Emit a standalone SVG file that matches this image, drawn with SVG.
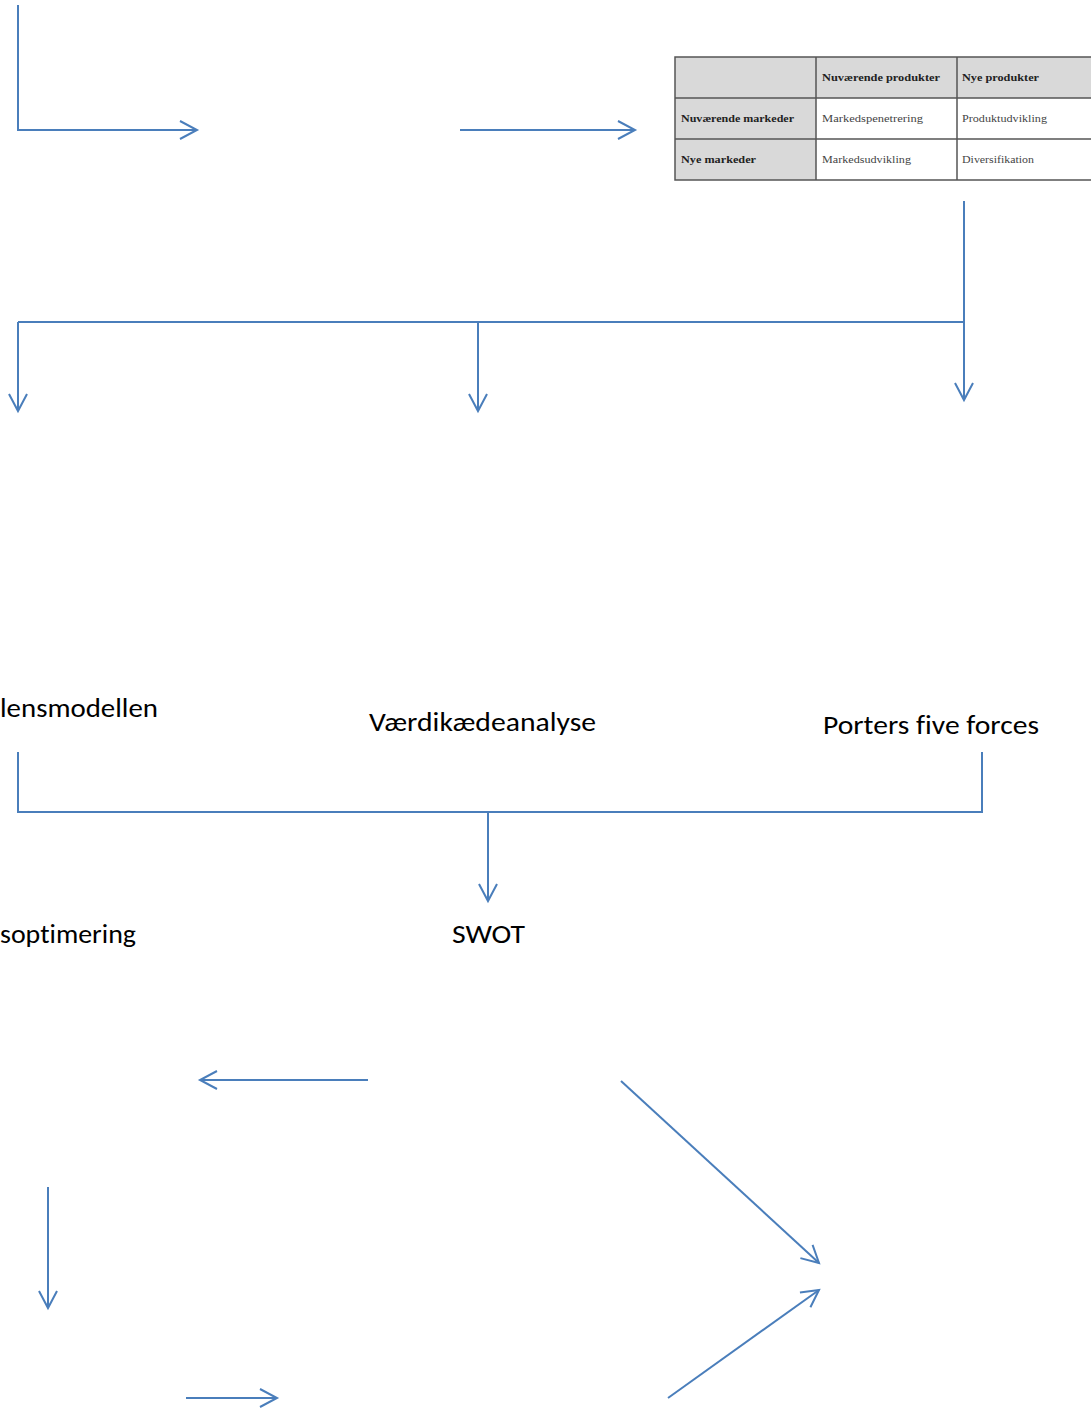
<svg xmlns="http://www.w3.org/2000/svg" width="1091" height="1409" viewBox="0 0 1091 1409">
<style>
.c{fill:none;stroke:#4a7ebb;stroke-width:2}
.t{font-family:Carlito,Lato,"Open Sans",sans-serif;font-size:26px;fill:#000;font-variant-ligatures:none}
.th{font-family:"Liberation Serif","DejaVu Serif",serif;font-size:10.5px;font-weight:bold;fill:#222}
.td{font-family:"Liberation Serif","DejaVu Serif",serif;font-size:10.5px;fill:#444}
.g{fill:#d9d9d9}
.b{stroke:#555;stroke-width:1.5;fill:none}
</style>
<defs>
<marker id="a" markerUnits="userSpaceOnUse" markerWidth="40" markerHeight="40" viewBox="-20 -20 40 40" refX="0" refY="0" orient="auto">
<path d="M-17,-9 L0,0 L-17,9" fill="none" stroke="#4a7ebb" stroke-width="2"/>
</marker>
</defs>
<g id="connectors">
<path class="c" d="M18,5 V130 H197" marker-end="url(#a)"/>
<path class="c" d="M460,130 H635" marker-end="url(#a)"/>
<path class="c" d="M964,201 V400" marker-end="url(#a)"/>
<path class="c" d="M18,322 H964"/>
<path class="c" d="M18,322 V411" marker-end="url(#a)"/>
<path class="c" d="M478,322 V411" marker-end="url(#a)"/>
<path class="c" d="M18,752 V812 H982 V752"/>
<path class="c" d="M488,812 V901" marker-end="url(#a)"/>
<path class="c" d="M368,1080 H200" marker-end="url(#a)"/>
<path class="c" d="M621,1081 L819,1263" marker-end="url(#a)"/>
<path class="c" d="M48,1187 V1308" marker-end="url(#a)"/>
<path class="c" d="M186,1398 H277" marker-end="url(#a)"/>
<path class="c" d="M668,1398 L819,1290" marker-end="url(#a)"/>
</g>
<g id="table">
<rect class="g" x="675" y="57" width="416" height="41"/>
<rect class="g" x="675" y="98" width="141" height="82"/>
<path class="b" d="M1091,57 H675 V180 H1091 M675,98 H1091 M675,139 H1091 M816,57 V180 M957,57 V180"/>
<text class="th" x="822" y="81" textLength="118" lengthAdjust="spacingAndGlyphs">Nuværende produkter</text>
<text class="th" x="962" y="81" textLength="77" lengthAdjust="spacingAndGlyphs">Nye produkter</text>
<text class="th" x="681" y="122" textLength="113" lengthAdjust="spacingAndGlyphs">Nuværende markeder</text>
<text class="td" x="822" y="122" textLength="101" lengthAdjust="spacingAndGlyphs">Markedspenetrering</text>
<text class="td" x="962" y="122" textLength="85" lengthAdjust="spacingAndGlyphs">Produktudvikling</text>
<text class="th" x="681" y="163" textLength="75" lengthAdjust="spacingAndGlyphs">Nye markeder</text>
<text class="td" x="822" y="163" textLength="89" lengthAdjust="spacingAndGlyphs">Markedsudvikling</text>
<text class="td" x="962" y="163" textLength="72" lengthAdjust="spacingAndGlyphs">Diversifikation</text>
</g>
<g id="n-forretning"><text class="t" x="0" y="717" textLength="158" lengthAdjust="spacingAndGlyphs">lensmodellen</text></g>
<g id="n-vaerdi"><text class="t" x="369" y="731" textLength="227" lengthAdjust="spacingAndGlyphs">Værdikædeanalyse</text></g>
<g id="n-porter"><text class="t" x="823" y="734" textLength="216" lengthAdjust="spacingAndGlyphs">Porters five forces</text></g>
<g id="n-optimering"><text class="t" x="0" y="943" textLength="136" lengthAdjust="spacingAndGlyphs">soptimering</text></g>
<g id="n-swot"><text class="t" x="452" y="943" textLength="73" lengthAdjust="spacingAndGlyphs">SWOT</text></g>
</svg>
